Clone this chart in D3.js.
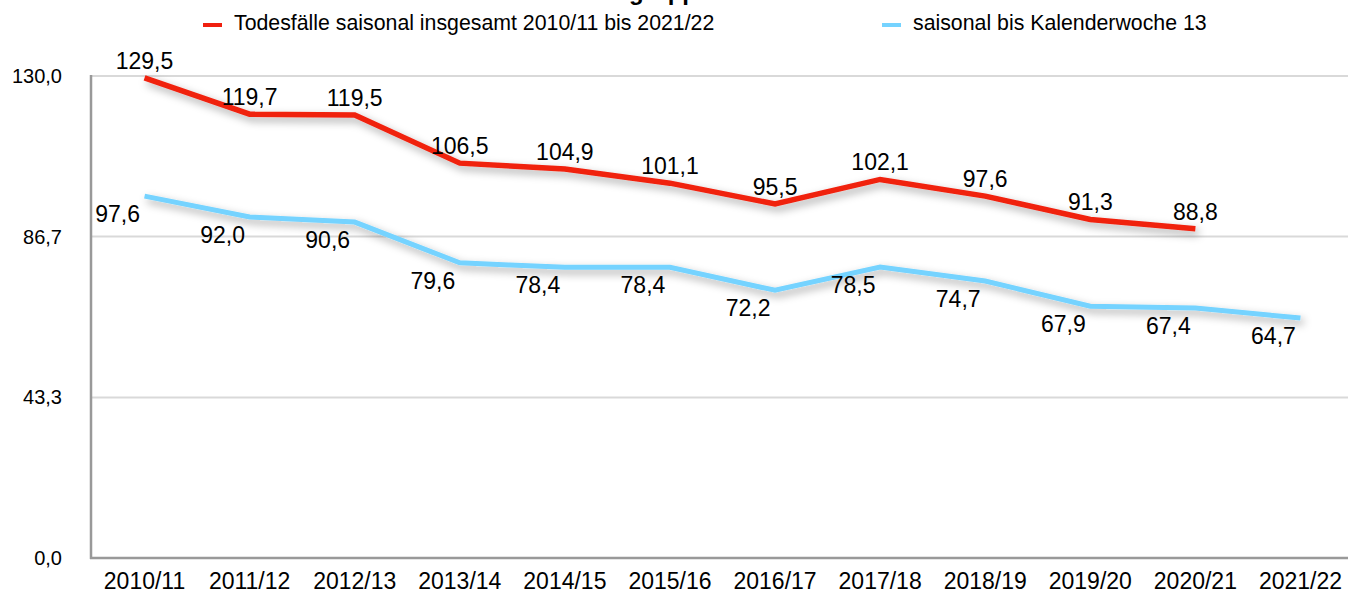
<!DOCTYPE html>
<html>
<head>
<meta charset="utf-8">
<script src="https://cdn.jsdelivr.net/npm/d3@7"></script>
<style>
  body { margin: 0; background: #fff; }
  svg { display: block; font-family: "Liberation Sans", Arial, sans-serif; }
</style>
</head>
<body>
<svg id="chart" width="1348" height="593"></svg>
<script>
  // data
  var seasons = ["2010/11","2011/12","2012/13","2013/14","2014/15","2015/16","2016/17","2017/18","2018/19","2019/20","2020/21","2021/22"];
  var totalSeason = [129.5,119.7,119.5,106.5,104.9,101.1,95.5,102.1,97.6,91.3,88.8,null];
  var untilWeek13 = [97.6,92.0,90.6,79.6,78.4,78.4,72.2,78.5,74.7,67.9,67.4,64.7];
  var yTicks = [0, 43.3, 86.7, 130];
  var legendNames = ["Todesfälle saisonal insgesamt 2010/11 bis 2021/22", "saisonal bis Kalenderwoche 13"];

  var svg = d3.select('#chart');
  var fmt = function(v){ return v.toFixed(1).replace('.', ','); };

  var x = d3.scaleBand().domain(seasons).range([92, 1353]);
  var y = d3.scaleLinear().domain([0, 130]).range([558, 76]);
  var cx = function(s){ return x(s) + x.bandwidth()/2; };

  // shadow for the lines
  var defs = svg.append('defs');
  var f = defs.append('filter').attr('id','shadow').attr('x','-10%').attr('y','-50%').attr('width','120%').attr('height','200%');
  f.append('feDropShadow').attr('dx',3).attr('dy',4).attr('stdDeviation',4)
    .attr('flood-color','#000').attr('flood-opacity',0.35);

  // title, cut off at the top edge like in the original
  svg.append('text').attr('x',561).attr('y',0)
    .attr('font-size','24px').attr('font-weight','bold').attr('fill','#000')
    .text('Altersgruppe');

  // grid
  svg.selectAll('.grid').data(yTicks.filter(function(d){return d>0;})).enter()
    .append('line')
    .attr('x1',91).attr('x2',1348)
    .attr('y1',function(d){return y(d);}).attr('y2',function(d){return y(d);})
    .attr('stroke','#d9d9d9').attr('stroke-width',2);

  // axes lines
  svg.append('line').attr('x1',91).attr('x2',91).attr('y1',y(130)-1).attr('y2',y(0)+1)
    .attr('stroke','#999').attr('stroke-width',2.5);
  svg.append('line').attr('x1',90).attr('x2',1348).attr('y1',y(0)).attr('y2',y(0))
    .attr('stroke','#999').attr('stroke-width',2.5);

  // y tick labels
  svg.selectAll('.ylab').data(yTicks).enter()
    .append('text')
    .attr('x',62).attr('y',function(d){return y(d);})
    .attr('dy','0.35em').attr('text-anchor','end')
    .attr('font-size','20px').attr('fill','#000')
    .text(fmt);

  // x tick labels
  svg.selectAll('.xlab').data(seasons).enter()
    .append('text')
    .attr('x',function(d){return cx(d);}).attr('y',589)
    .attr('text-anchor','middle')
    .attr('font-size','23px').attr('fill','#000')
    .text(function(d){return d;});

  var line = d3.line()
    .defined(function(d){return d.v != null;})
    .x(function(d){return cx(d.s);})
    .y(function(d){return y(d.v);});

  function series(vals){
    return seasons.map(function(s,i){ return {s:s, v:vals[i]}; });
  }
  var blue = series(untilWeek13), red = series(totalSeason);

  svg.append('path').datum(blue).attr('d',line)
    .attr('fill','none').attr('stroke','#75d3ff').attr('stroke-width',5)
    .attr('filter','url(#shadow)');
  svg.append('path').datum(red).attr('d',line)
    .attr('fill','none').attr('stroke','#f0200f').attr('stroke-width',5.5)
    .attr('filter','url(#shadow)');

  // data labels
  svg.selectAll('.rlab').data(red.filter(function(d){return d.v != null;})).enter()
    .append('text')
    .attr('x',function(d){return cx(d.s);}).attr('y',function(d){return y(d.v)-9;})
    .attr('text-anchor','middle').attr('font-size','23px').attr('fill','#000')
    .text(function(d){return fmt(d.v);});
  svg.selectAll('.blab').data(blue).enter()
    .append('text')
    .attr('x',function(d){return cx(d.s)-27;}).attr('y',function(d){return y(d.v)+26;})
    .attr('text-anchor','middle').attr('font-size','23px').attr('fill','#000')
    .text(function(d){return fmt(d.v);});

  // legend
  var legX = [203, 882], legColors = ['#f0200f','#75d3ff'];
  legendNames.forEach(function(n,i){
    svg.append('line').attr('x1',legX[i]).attr('x2',legX[i]+19).attr('y1',25).attr('y2',25)
      .attr('stroke',legColors[i]).attr('stroke-width',4);
    svg.append('text').attr('x',legX[i]+31).attr('y',30)
      .attr('font-size','21.3px').attr('fill','#000').text(n);
  });
</script>
</body>
</html>
